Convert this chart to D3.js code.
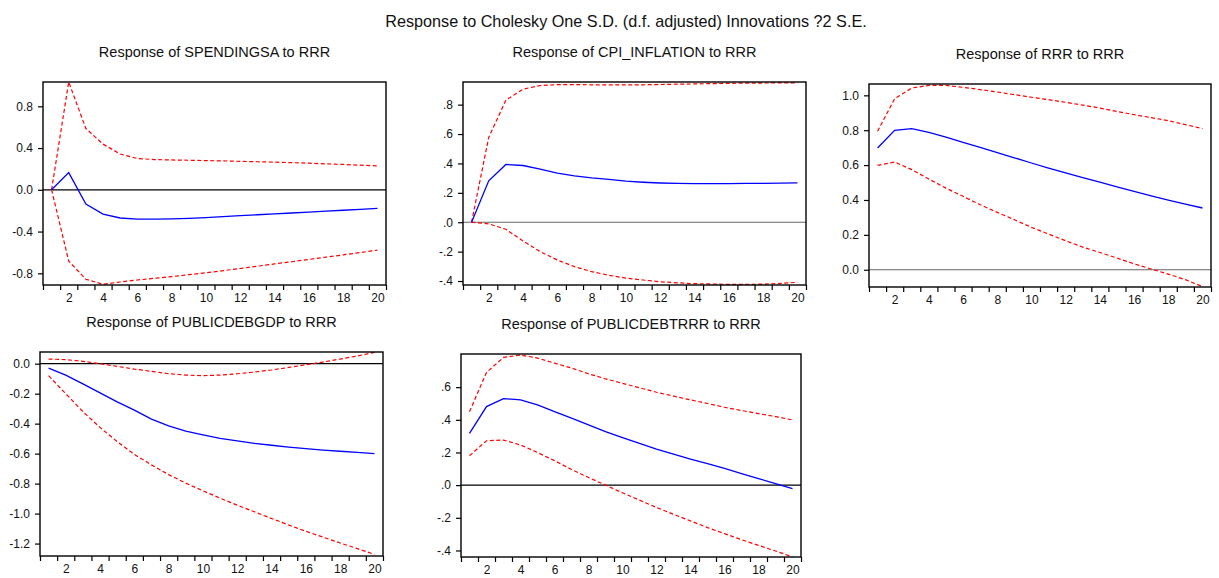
<!DOCTYPE html>
<html lang="en">
<head>
<meta charset="UTF-8">
<title>Impulse responses to RRR</title>
<script src="https://d3js.org/d3.v7.min.js"></script>
<style>
  body { margin: 0; background: #fff; }
  svg { display: block; font-family: "Liberation Sans", Arial, sans-serif; }
</style>
</head>
<body>
<svg id="chart" width="1219" height="578"></svg>
<script>
(function () {
  'use strict';

  // horizon (periods 1..20)
  const periods = d3.range(1, 21);

  // SPENDINGSA
  const spendResp  = [0, 0.165, -0.137, -0.232, -0.27, -0.28, -0.281, -0.278, -0.273, -0.266, -0.257, -0.248, -0.239, -0.231, -0.222, -0.213, -0.204, -0.196, -0.187, -0.178];
  const spendUpper = [0, 1.033, 0.587, 0.438, 0.343, 0.300, 0.290, 0.286, 0.283, 0.280, 0.277, 0.273, 0.269, 0.265, 0.260, 0.255, 0.249, 0.243, 0.236, 0.229];
  const spendLower = [0, -0.683, -0.857, -0.905, -0.883, -0.864, -0.848, -0.832, -0.813, -0.794, -0.775, -0.754, -0.732, -0.71, -0.689, -0.667, -0.645, -0.624, -0.601, -0.578];

  // CPI_INFLATION
  const cpiResp  = [0, 0.282, 0.393, 0.386, 0.361, 0.334, 0.316, 0.302, 0.291, 0.279, 0.272, 0.267, 0.264, 0.262, 0.262, 0.263, 0.264, 0.265, 0.266, 0.268];
  const cpiUpper = [0, 0.577, 0.83, 0.905, 0.93, 0.936, 0.936, 0.935, 0.934, 0.934, 0.935, 0.937, 0.939, 0.941, 0.943, 0.945, 0.946, 0.947, 0.948, 0.948];
  const cpiLower = [0, -0.011, -0.048, -0.127, -0.2, -0.257, -0.302, -0.336, -0.361, -0.38, -0.393, -0.405, -0.412, -0.418, -0.42, -0.423, -0.423, -0.421, -0.416, -0.409];

  // RRR
  const rrrResp  = [0.698, 0.799, 0.809, 0.788, 0.761, 0.73, 0.702, 0.671, 0.642, 0.612, 0.583, 0.555, 0.528, 0.502, 0.475, 0.449, 0.423, 0.399, 0.376, 0.354];
  const rrrUpper = [0.794, 0.981, 1.042, 1.057, 1.057, 1.046, 1.033, 1.019, 1.004, 0.989, 0.975, 0.96, 0.944, 0.927, 0.908, 0.889, 0.872, 0.855, 0.832, 0.809];
  const rrrLower = [0.598, 0.618, 0.574, 0.52, 0.468, 0.421, 0.373, 0.329, 0.287, 0.243, 0.205, 0.166, 0.13, 0.099, 0.067, 0.034, 0.004, -0.025, -0.057, -0.096];

  // PUBLICDEBGDP
  const debtGdpResp  = [-0.029, -0.076, -0.135, -0.195, -0.255, -0.31, -0.37, -0.415, -0.45, -0.475, -0.498, -0.515, -0.531, -0.544, -0.556, -0.567, -0.576, -0.584, -0.591, -0.6];
  const debtGdpUpper = [0.031, 0.027, 0.016, 0, -0.018, -0.036, -0.051, -0.067, -0.076, -0.08, -0.076, -0.067, -0.056, -0.042, -0.025, -0.007, 0.011, 0.031, 0.051, 0.076];
  const debtGdpLower = [-0.08, -0.2, -0.32, -0.425, -0.52, -0.605, -0.675, -0.74, -0.797, -0.848, -0.897, -0.944, -0.988, -1.033, -1.076, -1.118, -1.157, -1.196, -1.234, -1.272];

  // PUBLICDEBTRRR
  const debtRrrResp  = [0.317, 0.481, 0.53, 0.522, 0.491, 0.45, 0.41, 0.369, 0.328, 0.291, 0.256, 0.221, 0.19, 0.16, 0.131, 0.102, 0.071, 0.04, 0.01, -0.022];
  const debtRrrUpper = [0.45, 0.69, 0.782, 0.797, 0.778, 0.747, 0.717, 0.682, 0.651, 0.623, 0.596, 0.569, 0.545, 0.522, 0.5, 0.477, 0.457, 0.438, 0.42, 0.399];
  const debtRrrLower = [0.18, 0.272, 0.276, 0.246, 0.2, 0.15, 0.096, 0.047, 0.0, -0.047, -0.092, -0.137, -0.178, -0.219, -0.26, -0.297, -0.334, -0.369, -0.403, -0.44];

  // x tick labels
  const xLabels = [2, 4, 6, 8, 10, 12, 14, 16, 18, 20];

  const loc = d3.formatLocale({ decimal: ".", thousands: ",", grouping: [3], currency: ["", ""], minus: "-" });
  const fmtLead = loc.format(".1f");
  const fmtNoLead = d => fmtLead(d).replace(/^(-?)0\./, "$1.");

  const panels = [
    { title: "Response of SPENDINGSA to RRR", resp: spendResp, upper: spendUpper, lower: spendLower,
      box: [43, 82, 386, 285], yDomain: [-0.912, 1.033], yTicks: [-0.8, -0.4, 0, 0.4, 0.8], fmt: fmtLead, zero: "#000" },
    { title: "Response of CPI_INFLATION to RRR", resp: cpiResp, upper: cpiUpper, lower: cpiLower,
      box: [463, 82, 806, 285], yDomain: [-0.427, 0.954], yTicks: [-0.4, -0.2, 0, 0.2, 0.4, 0.6, 0.8], fmt: fmtNoLead, zero: "#666" },
    { title: "Response of RRR to RRR", resp: rrrResp, upper: rrrUpper, lower: rrrLower,
      box: [869, 84, 1211, 287], yDomain: [-0.099, 1.065], yTicks: [0, 0.2, 0.4, 0.6, 0.8, 1.0], fmt: fmtLead, zero: "#666" },
    { title: "Response of PUBLICDEBGDP to RRR", resp: debtGdpResp, upper: debtGdpUpper, lower: debtGdpLower,
      box: [40, 352, 383, 556], yDomain: [-1.283, 0.078], yTicks: [-1.2, -1.0, -0.8, -0.6, -0.4, -0.2, 0], fmt: fmtLead, zero: "#000" },
    { title: "Response of PUBLICDEBTRRR to RRR", resp: debtRrrResp, upper: debtRrrUpper, lower: debtRrrLower,
      box: [461, 354, 801, 557], yDomain: [-0.44, 0.803], yTicks: [-0.4, -0.2, 0, 0.2, 0.4, 0.6], fmt: fmtNoLead, zero: "#000" }
  ];

  const svg = d3.select("#chart");
  svg.append("rect").attr("width", 1219).attr("height", 578).attr("fill", "#fff");

  svg.append("text")
    .attr("x", 626).attr("y", 27)
    .attr("text-anchor", "middle")
    .style("font-size", "16.2px")
    .attr("fill", "#111")
    .text("Response to Cholesky One S.D. (d.f. adjusted) Innovations ?2 S.E.");

  panels.forEach(p => {
    const [x0, y0, x1, y1] = p.box;
    const x = d3.scaleLinear().domain([0.5, 20.5]).range([x0, x1]);
    const y = d3.scaleLinear().domain(p.yDomain).range([y1, y0]);
    const g = svg.append("g");

    g.append("text")
      .attr("x", (x0 + x1) / 2).attr("y", y0 - 25)
      .attr("text-anchor", "middle")
      .style("font-size", "14.5px")
      .attr("fill", "#111")
      .text(p.title);

    // zero line
    g.append("line")
      .attr("x1", x0).attr("x2", x1)
      .attr("y1", y(0)).attr("y2", y(0))
      .attr("stroke", p.zero).attr("stroke-width", 1.2);

    const line = d3.line().x((d, i) => x(periods[i])).y(d => y(d));

    [p.upper, p.lower].forEach(s => {
      g.append("path").datum(s)
        .attr("d", line)
        .attr("fill", "none")
        .attr("stroke", "#ff0000")
        .attr("stroke-width", 1.2)
        .attr("stroke-dasharray", "4,2.5");
    });

    g.append("path").datum(p.resp)
      .attr("d", line)
      .attr("fill", "none")
      .attr("stroke", "#0000ff")
      .attr("stroke-width", 1.3);

    // y axis
    const ya = g.append("g")
      .attr("transform", `translate(${x0},0)`)
      .call(d3.axisLeft(y).tickValues(p.yTicks).tickFormat(p.fmt).tickSize(5).tickPadding(5));
    ya.select(".domain").remove();

    // x axis ticks between periods
    const xa = g.append("g")
      .attr("transform", `translate(0,${y1})`)
      .call(d3.axisBottom(x).tickValues(d3.range(0.5, 21, 1)).tickFormat("").tickSize(5));
    xa.select(".domain").remove();

    const xl = g.append("g")
      .attr("transform", `translate(0,${y1})`)
      .call(d3.axisBottom(x).tickValues(xLabels).tickFormat(d3.format("d")).tickSize(0).tickPadding(8));
    xl.select(".domain").remove();

    g.selectAll(".tick text")
      .style("font-size", "12px")
      .style("font-family", "\"Liberation Sans\", Arial, sans-serif")
      .attr("fill", "#111");
    g.selectAll(".tick line").attr("stroke", "#000").attr("stroke-width", 1.2);

    g.append("rect")
      .attr("x", x0).attr("y", y0)
      .attr("width", x1 - x0).attr("height", y1 - y0)
      .attr("fill", "none")
      .attr("stroke", "#000")
      .attr("stroke-width", 1.4);
  });
}());
</script>
</body>
</html>
